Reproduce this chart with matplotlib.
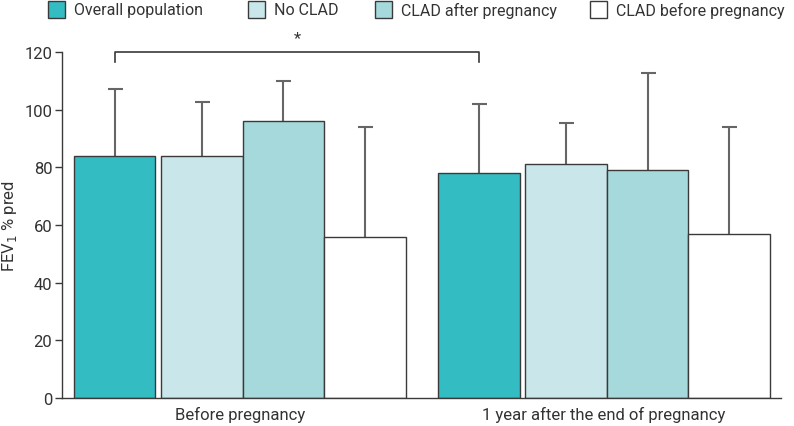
import matplotlib
matplotlib.use("Agg")
import matplotlib.pyplot as plt
from matplotlib.patches import Rectangle
import numpy as np

plt.rcParams['font.family'] = ['Roboto', 'DejaVu Sans']

groups = ["Before pregnancy", "1 year after the end of pregnancy"]
series = ["Overall population", "No CLAD", "CLAD after pregnancy", "CLAD before pregnancy"]
means = {
    "Overall population":    [84, 78],
    "No CLAD":               [84, 81],
    "CLAD after pregnancy":  [96, 79],
    "CLAD before pregnancy": [56, 57],
}
upper = {
    "Overall population":    [107.3, 102],
    "No CLAD":               [102.5, 95.5],
    "CLAD after pregnancy":  [109.8, 112.6],
    "CLAD before pregnancy": [94, 94],
}
colors = ["#33bcc2", "#c9e7ea", "#a6d9dc", "#ffffff"]
yticks = [0, 20, 40, 60, 80, 100, 120]

W, H = 794, 427
fig = plt.figure(figsize=(W / 100, H / 100), dpi=100)
ax = fig.add_axes([62 / W, 1 - 399 / H, (781 - 62) / W, (399 - 53) / H])

edge = "#3a3a3a"
txt = "#333333"
offsets = [0.0, 1.07, 2.07, 3.07]
group_start = [0.0, 4.47]
for gi, g in enumerate(groups):
    for si, s in enumerate(series):
        left = group_start[gi] + offsets[si]
        m = means[s][gi]
        ax.bar(left, m, width=1.0, align='edge', color=colors[si],
               edgecolor=edge, linewidth=1.0, zorder=2)
        # symmetric error bar; lower half is hidden behind the opaque bar
        ax.errorbar(left + 0.5, m, yerr=upper[s][gi] - m, fmt='none',
                    ecolor="#666666", elinewidth=1.5, capsize=5.4, capthick=1.5, zorder=1)

ax.set_xlim(-0.147, 8.675)
ax.set_ylim(0, 120)
ax.set_yticks(yticks)
ax.set_yticklabels([str(t) for t in yticks], fontsize=12, color=txt)
centers = [group_start[i] + (offsets[0] + offsets[3] + 1) / 2 for i in range(2)]
ax.set_xticks(centers)
ax.set_xticklabels(groups, fontsize=12, color=txt)
ax.tick_params(axis='x', length=0, pad=6)
ax.tick_params(axis='y', length=5, width=1, color=edge, pad=2)
for sp in ['top', 'right']:
    ax.spines[sp].set_visible(False)
for sp in ['left', 'bottom']:
    ax.spines[sp].set_color(edge)
    ax.spines[sp].set_linewidth(1.0)
ax.set_ylabel("FEV$_1$ % pred", fontsize=12, color=txt)
ax.yaxis.label.set_va('center')
ax.yaxis.set_label_coords((10 - 62) / 719, 0.5)

# significance bracket between overall population bars
x1 = group_start[0] + offsets[0] + 0.5
x2 = group_start[1] + offsets[0] + 0.5
ax.plot([x1, x1, x2, x2], [116.5, 120, 120, 116.5], color=edge, lw=1.2,
        clip_on=False, zorder=3)
ax.text((x1 + x2) / 2, 122.5, "*", ha='center', va='bottom', fontsize=12,
        color=txt, clip_on=False)

# legend, entries placed as in the reference
patch_x = [48, 248, 375, 590]
for px, c, s in zip(patch_x, colors, series):
    fig.patches.append(Rectangle((px / W, 1 - 19 / H), 17 / W, 17 / H,
                                 transform=fig.transFigure, facecolor=c,
                                 edgecolor=edge, linewidth=1.0))
    fig.text((px + 26) / W, 1 - 10.5 / H, s, ha='left', va='center',
             fontsize=11.5, color=txt)

fig.savefig("out.png", dpi=100)
